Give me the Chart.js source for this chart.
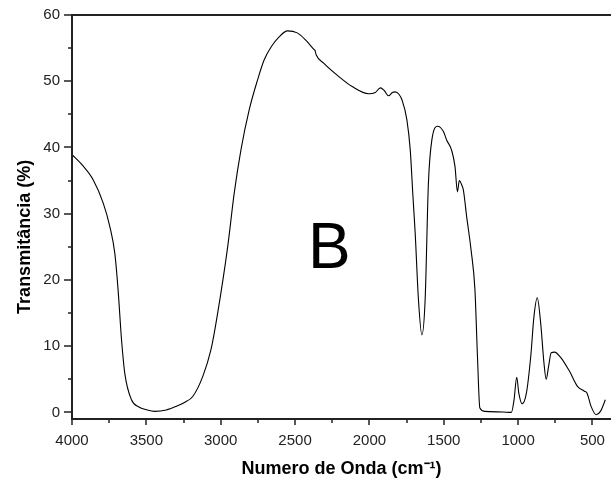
<!DOCTYPE html>
<html lang="pt">
<head>
  <meta charset="UTF-8">
  <title>Espectro IV - B</title>
  <script src="https://cdn.jsdelivr.net/npm/chart.js"></script>
  <style>
    html, body { margin: 0; padding: 0; background: #fff; }
    #wrap { width: 611px; height: 488px; }
  </style>
</head>
<body>
  <div id="wrap"><canvas id="irChart" width="611" height="488"></canvas></div>

  <script>
    // wavenumbers (cm-1) and transmittance (%)
    const wavenumbers = [
      4000, 3933, 3857, 3790, 3746, 3712, 3690, 3667, 3645, 3600, 3550, 3500, 3444, 3366, 3300,
      3244, 3188, 3121, 3065, 3024, 2953, 2909, 2864, 2808, 2752, 2708, 2660, 2607, 2551, 2485,
      2428, 2373, 2365, 2358, 2306, 2205, 2116, 2004, 1960, 1926, 1900, 1871, 1845, 1826, 1800,
      1781, 1748, 1725, 1708, 1692, 1670, 1647, 1625, 1603, 1580, 1540, 1502, 1480, 1447, 1424,
      1408, 1395, 1380, 1368, 1346, 1316, 1290, 1273, 1257, 1223, 1100, 1045, 1027, 1009, 995,
      973, 944, 915, 893, 871, 848, 826, 811, 795, 777, 755, 710, 654, 599, 554,
      536, 509, 475, 446, 413
    ];
    const transmittance = [
      38.9, 37.4, 35.1, 31.6, 28.1, 24.0, 18.5, 11.0, 5.9, 1.9, 0.8, 0.4, 0.15, 0.36, 0.9,
      1.5, 2.4, 5.4, 9.5, 14.5, 25.0, 33.1, 39.6, 45.7, 50.2, 53.2, 55.2, 56.7, 57.6, 57.3,
      56.2, 54.8, 54.6, 54.0, 52.7, 50.7, 49.2, 48.1, 48.3, 49.0, 48.6, 47.8, 48.3, 48.4, 48.0,
      47.2, 44.2, 39.6, 33.0, 27.1, 17.0, 11.7, 17.0, 34.6, 41.1, 43.2, 42.4, 41.1, 39.6, 37.1,
      33.3, 35.0, 34.4, 33.6, 29.6, 24.5, 18.5, 8.4, 0.66, 0.15, 0.05, 0.0, 1.9, 5.3, 2.9,
      1.3, 2.9, 8.4, 14.5, 17.3, 13.5, 7.5, 5.0, 6.9, 9.0, 9.1, 8.2, 6.2, 3.9, 3.2,
      2.9, 0.9, -0.35, 0.15, 1.9
    ];

    const xMajorTicks = [4000, 3500, 3000, 2500, 2000, 1500, 1000, 500];
    const xMinorTicks = [3750, 3250, 2750, 2250, 1750, 1250, 750];
    const yMajorTicks = [0, 10, 20, 30, 40, 50, 60];
    const yMinorTicks = [5, 15, 25, 35, 45, 55];

    const FONT = "'Liberation Sans', Arial, sans-serif";

    // axis frame, outward tick marks, y title and the big "B" label
    const framePlugin = {
      id: 'frame',
      afterDraw(chart) {
        const ctx = chart.ctx;
        const a = chart.chartArea;
        const xs = chart.scales.x, ys = chart.scales.y;
        ctx.save();
        ctx.strokeStyle = '#222';
        ctx.lineWidth = 2;
        ctx.beginPath();
        ctx.moveTo(a.left, a.bottom);
        ctx.lineTo(a.left, a.top);
        ctx.lineTo(a.right, a.top);
        ctx.moveTo(a.left - 1, a.bottom);
        ctx.lineTo(a.right, a.bottom);
        ctx.stroke();

        ctx.lineWidth = 1.5;
        ctx.beginPath();
        xMajorTicks.forEach(v => {
          const p = Math.round(xs.getPixelForValue(v));
          ctx.moveTo(p, a.bottom); ctx.lineTo(p, a.bottom + 6);
        });
        xMinorTicks.forEach(v => {
          const p = Math.round(xs.getPixelForValue(v));
          ctx.moveTo(p, a.bottom); ctx.lineTo(p, a.bottom + 4);
        });
        yMajorTicks.forEach(v => {
          const p = Math.round(ys.getPixelForValue(v));
          ctx.moveTo(a.left, p); ctx.lineTo(a.left - 8, p);
        });
        yMinorTicks.forEach(v => {
          const p = Math.round(ys.getPixelForValue(v));
          ctx.moveTo(a.left, p); ctx.lineTo(a.left - 4, p);
        });
        ctx.stroke();

        ctx.fillStyle = '#000';
        ctx.font = '64px ' + FONT;
        ctx.textAlign = 'center';
        ctx.textBaseline = 'alphabetic';
        ctx.fillText('B', xs.getPixelForValue(2270), ys.getPixelForValue(21.8));

        // y title sits a bit below the middle of the axis
        ctx.font = 'bold 18px ' + FONT;
        ctx.textBaseline = 'middle';
        ctx.translate(a.left - 47, ys.getPixelForValue(26.5));
        ctx.rotate(-Math.PI / 2);
        ctx.fillText('Transmitância (%)', 0, 0);
        ctx.restore();
      }
    };

    new Chart(document.getElementById('irChart'), {
      type: 'line',
      data: {
        datasets: [{
          label: 'B',
          data: wavenumbers.map((w, i) => ({ x: w, y: transmittance[i] })),
          borderColor: '#000',
          borderWidth: 1.1,
          pointRadius: 0,
          fill: false,
          cubicInterpolationMode: 'monotone'
        }]
      },
      options: {
        responsive: false,
        animation: false,
        layout: { padding: { top: 15, right: 0, bottom: 0, left: 0 } },
        plugins: {
          legend: { display: false },
          tooltip: { enabled: false }
        },
        scales: {
          x: {
            type: 'linear',
            reverse: true,
            min: 375,
            max: 4000,
            afterBuildTicks: s => { s.ticks = xMajorTicks.map(v => ({ value: v })); },
            afterFit: s => { s.height = 69; s.paddingLeft = 0; s.paddingRight = 0; },
            grid: { display: false, drawTicks: false },
            border: { display: false },
            ticks: {
              color: '#222',
              padding: 13,
              maxRotation: 0,
              autoSkip: false,
              callback: v => String(v),
              font: { family: FONT, size: 15 }
            },
            title: {
              display: true,
              text: 'Numero de Onda (cm⁻¹)',
              color: '#000',
              padding: { top: 0, bottom: 8 },
              font: { family: FONT, size: 18, weight: 'bold' }
            }
          },
          y: {
            min: -1,
            max: 60,
            afterBuildTicks: s => { s.ticks = yMajorTicks.map(v => ({ value: v })); },
            afterFit: s => { s.width = 72; s.paddingTop = 0; s.paddingBottom = 0; },
            grid: { display: false, drawTicks: false },
            border: { display: false },
            ticks: {
              color: '#222',
              padding: 12,
              autoSkip: false,
              callback: v => String(v),
              font: { family: FONT, size: 15 }
            },
            title: { display: false }
          }
        }
      },
      plugins: [framePlugin]
    });
  </script>
</body>
</html>
